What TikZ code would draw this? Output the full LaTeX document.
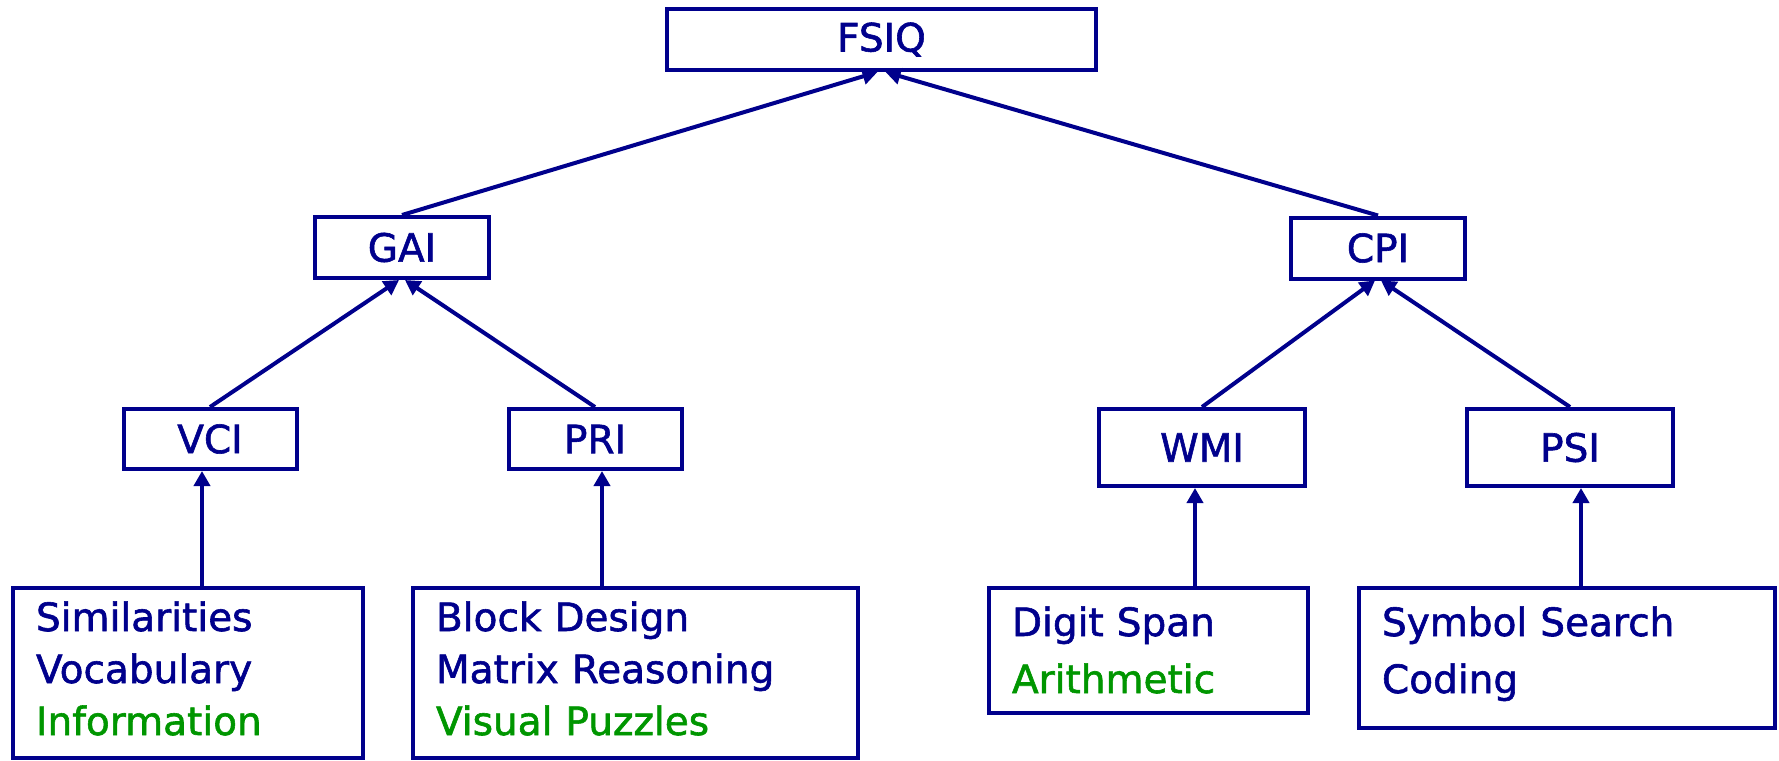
\documentclass[tikz,border=0pt]{standalone}
\usepackage{fontspec}
\setmainfont{DejaVu Sans}[FakeBold=1.5]
\usetikzlibrary{arrows.meta,positioning}
\definecolor{wnavy}{RGB}{0,0,140}
\definecolor{wgreen}{RGB}{0,150,0}
\tikzstyle{index}=[draw=wnavy, line width=4pt, text=wnavy,
font=\fontsize{39pt}{52pt}\selectfont, inner sep=0pt]
\tikzstyle{subtests}=[index, anchor=north west, align=left,
inner xsep=23pt, inner ysep=0pt]
\tikzstyle{link}=[draw=wnavy, line width=4pt, -{Triangle[length=15pt,width=16pt]}]

\begin{document}
\begin{tikzpicture}[x=1pt,y=-1pt]
\useasboundingbox (0,0) rectangle (1779,760);
% index boxes
\node[index, minimum width=429pt, minimum height=61pt] (fsiq) at (881.5,39.5) {FSIQ};
\node[index, minimum width=174pt, minimum height=61pt] (gai) at (402,247.5) {GAI};
\node[index, minimum width=174pt, minimum height=61pt] (cpi) at (1378,248) {CPI};
\node[index, minimum width=173pt, minimum height=60pt] (vci) at (210,439) {VCI};
\node[index, minimum width=173pt, minimum height=60pt] (pri) at (595,439) {PRI};
\node[index, minimum width=206pt, minimum height=77pt] (wmi) at (1202,447.5) {WMI};
\node[index, minimum width=206pt, minimum height=77pt] (psi) at (1570,447.5) {PSI};
% subtest boxes
\node[subtests, text width=304pt, text height=43pt, text depth=127pt] (sim) at (11,586)
  {Similarities\\Vocabulary\\\textcolor{wgreen}{Information}};
\node[subtests, text width=399pt, text height=43pt, text depth=127pt] (blk) at (411,586)
  {Block Design\\Matrix Reasoning\\\textcolor{wgreen}{Visual Puzzles}};
\node[subtests, font=\fontsize{39pt}{57pt}\selectfont, text width=273pt, text height=48pt, text depth=77pt] (dig) at (987,586)
  {Digit Span\\\textcolor{wgreen}{Arithmetic}};
\node[subtests, font=\fontsize{39pt}{57pt}\selectfont, text width=370pt, text height=48pt, text depth=92pt] (sym) at (1357,586)
  {Symbol Search\\Coding};
% upward links
\draw[link] (gai.north) -- ([xshift=-4pt]fsiq.south);
\draw[link] (cpi.north) -- ([xshift=4pt]fsiq.south);
\draw[link] (vci.north) -- ([xshift=-3pt]gai.south);
\draw[link] (pri.north) -- ([xshift=3pt]gai.south);
\draw[link] (wmi.north) -- ([xshift=-3pt]cpi.south);
\draw[link] (psi.north) -- ([xshift=3pt]cpi.south);
\coordinate (vcix) at (202,0);
\coordinate (prix) at (602,0);
\coordinate (wmix) at (1195,0);
\coordinate (psix) at (1581,0);
\draw[link] (vcix |- sim.north) -- (vcix |- vci.south);
\draw[link] (prix |- blk.north) -- (prix |- pri.south);
\draw[link] (wmix |- dig.north) -- (wmix |- wmi.south);
\draw[link] (psix |- sym.north) -- (psix |- psi.south);
\end{tikzpicture}
\end{document}
